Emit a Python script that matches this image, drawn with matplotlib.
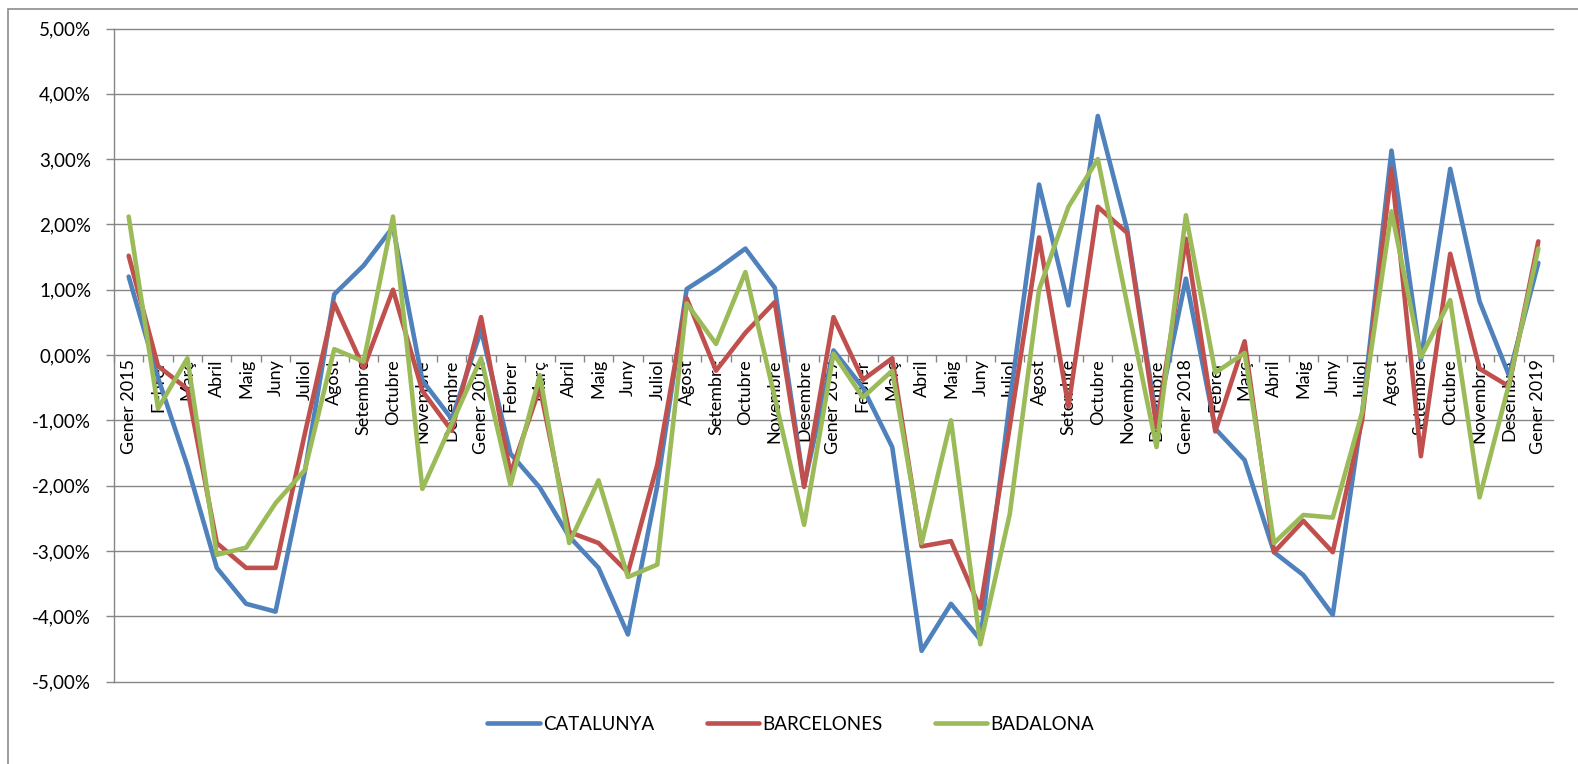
import matplotlib
matplotlib.use("Agg")
import matplotlib.pyplot as plt
from matplotlib.patches import Rectangle
from matplotlib.ticker import FixedLocator, FuncFormatter

plt.rcParams['font.family'] = ['Lato', 'DejaVu Sans']

months = ["Gener 2015", "Febrer", "Març", "Abril", "Maig", "Juny", "Juliol", "Agost",
          "Setembre", "Octubre", "Novembre", "Desembre",
          "Gener 2016", "Febrer", "Març", "Abril", "Maig", "Juny", "Juliol", "Agost",
          "Setembre", "Octubre", "Novembre", "Desembre",
          "Gener 2017", "Febrer", "Març", "Abril", "Maig", "Juny", "Juliol", "Agost",
          "Setembre", "Octubre", "Novembre", "Desembre",
          "Gener 2018", "Febrer", "Març", "Abril", "Maig", "Juny", "Juliol", "Agost",
          "Setembre", "Octubre", "Novembre", "Desembre",
          "Gener 2019"]

catalunya = [1.20, -0.35, -1.70, -3.26, -3.81, -3.93, -1.78, 0.93, 1.37, 1.96, -0.39, -0.98,
             0.38, -1.51, -2.03, -2.78, -3.26, -4.28, -2.00, 1.01, 1.30, 1.63, 1.03, -2.00,
             0.07, -0.50, -1.41, -4.53, -3.81, -4.36, -0.72, 2.61, 0.76, 3.66, 1.92, -1.00,
             1.17, -1.13, -1.61, -3.02, -3.37, -3.98, -0.90, 3.13, -0.08, 2.85, 0.82, -0.31,
             1.41]

barcelones = [1.52, -0.17, -0.52, -2.88, -3.26, -3.26, -1.20, 0.79, -0.20, 1.00, -0.55, -1.16,
              0.58, -1.82, -0.50, -2.71, -2.88, -3.33, -1.68, 0.87, -0.24, 0.34, 0.81, -2.02,
              0.58, -0.38, -0.05, -2.93, -2.85, -3.88, -1.10, 1.80, -0.79, 2.27, 1.87, -1.10,
              1.78, -1.17, 0.21, -3.02, -2.54, -3.02, -1.00, 2.85, -1.55, 1.55, -0.21, -0.48,
              1.74]

badalona = [2.12, -0.82, -0.05, -3.06, -2.95, -2.27, -1.76, 0.09, -0.10, 2.12, -2.05, -1.05,
            -0.05, -1.99, -0.31, -2.88, -1.92, -3.40, -3.21, 0.79, 0.17, 1.27, -0.65, -2.60,
            0.02, -0.65, -0.24, -2.88, -1.00, -4.43, -2.44, 1.00, 2.27, 3.00, 0.78, -1.41,
            2.14, -0.27, 0.03, -2.88, -2.45, -2.49, -0.88, 2.20, -0.03, 0.84, -2.18, -0.45,
            1.63]

series_names = ["CATALUNYA", "BARCELONES", "BADALONA"]
series_colors = ["#4F81BD", "#C0504D", "#9BBB59"]
y_ticks = [5, 4, 3, 2, 1, 0, -1, -2, -3, -4, -5]

W, H = 1578, 764
fig = plt.figure(figsize=(W / 100, H / 100), dpi=100)
fig.patch.set_facecolor("white")

left, right, top, bottom = 114, 1553, 28.5, 681.5
ax = fig.add_axes([left / W, 1 - bottom / H, (right - left) / W, (bottom - top) / H])

grid_c = "#868686"
x = list(range(len(months)))
for vals, name, col in zip([catalunya, barcelones, badalona], series_names, series_colors):
    ax.plot(x, vals, color=col, lw=3.3, label=name, solid_joinstyle="round",
            solid_capstyle="round", zorder=3)

ax.set_xlim(-0.5, len(months) - 0.5)
ax.set_ylim(-5, 5)

for yv in y_ticks:
    if yv != 0:
        ax.axhline(yv, color=grid_c, lw=1.0, zorder=1, clip_on=False)

for s in ["top", "right"]:
    ax.spines[s].set_visible(False)
ax.spines["left"].set_color(grid_c)
ax.spines["left"].set_linewidth(1.0)
ax.spines["bottom"].set_position(("data", 0))
ax.spines["bottom"].set_color(grid_c)
ax.spines["bottom"].set_linewidth(1.0)
ax.spines["bottom"].set_zorder(1)

ax.yaxis.set_major_locator(FixedLocator(y_ticks))
ax.yaxis.set_major_formatter(FuncFormatter(lambda v, p: f"{v:.2f}".replace(".", ",") + "%"))
ax.tick_params(axis="y", direction="out", length=5.5, width=1.0, color=grid_c,
               labelsize=13.5, pad=11, labelcolor="black")

ax.set_xticks(x)
ax.set_xticklabels(months, rotation=90, ha="center", va="top")
ax.set_xticks([i + 0.5 for i in range(-1, len(months))], minor=True)
ax.tick_params(axis="x", which="major", length=0, labelsize=13, pad=3)
ax.tick_params(axis="x", which="minor", direction="out", length=5, width=1.0, color=grid_c)

fig.legend(loc="center", bbox_to_anchor=(0.501, 1 - 724 / H), ncol=3, frameon=False,
           fontsize=13.5, handlelength=2.8, handletextpad=0.15, columnspacing=2.8)

fig.patches.append(Rectangle((8 / W, -0.1), 2.0, 1 - 9 / H + 0.1, transform=fig.transFigure,
                             fill=False, edgecolor="#8c8c8c", lw=1.2, clip_on=False))

fig.savefig("out.png", dpi=100)
